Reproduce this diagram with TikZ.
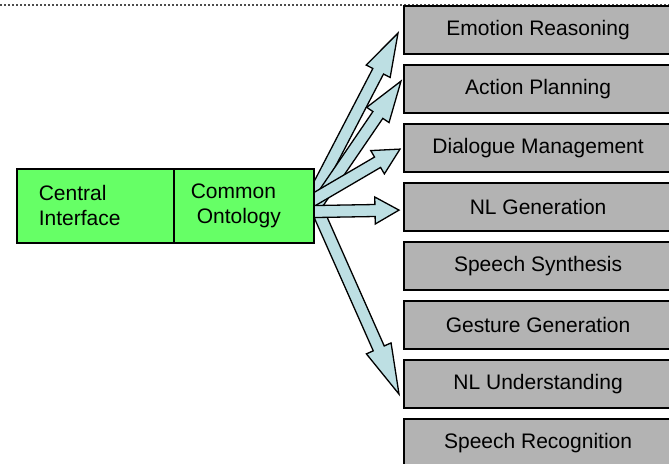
\documentclass[tikz,border=0pt]{standalone}
\usepackage{fontspec}
\setmainfont{Liberation Sans}
\usetikzlibrary{calc}
\definecolor{modgray}{RGB}{179,179,179}
\definecolor{ifgreen}{RGB}{102,255,102}
\definecolor{linkblue}{RGB}{189,223,227}
\pgfdeclarelayer{back}
\pgfsetlayers{back,main}
% block arrow from tail #1 to tip #2 with head length #3
\newcommand\blockarrow[3]{%
  \coordinate (#2-b) at ($(#2)!#3!(#1)$);
  \filldraw[linkarrow] ($(#1)!6pt!90:(#2)$) -- ($(#2-b)!6pt!90:(#2)$)
    -- ($(#2-b)!13.5pt!90:(#2)$) -- (#2) -- ($(#2-b)!13.5pt!-90:(#2)$)
    -- ($(#2-b)!6pt!-90:(#2)$) -- ($(#1)!6pt!-90:(#2)$) -- cycle;}
\begin{document}
\begin{tikzpicture}[x=1pt,y=-1pt,
  font=\fontsize{21}{25}\selectfont,
  module/.style={draw=black, line width=2.2pt, fill=modgray,
    minimum width=268pt, minimum height=48pt, inner sep=0pt, anchor=north west},
  core/.style={draw=black, line width=1.5pt, fill=ifgreen,
    minimum height=74pt, inner ysep=0pt, anchor=north west, align=left},
  linkarrow/.style={fill=linkblue, draw=black, line width=1.3pt, line join=miter}]
\useasboundingbox (0,0) rectangle (669,463);

% dotted rule along the top
\draw[gray!60!black, line width=2pt, dash pattern=on 2pt off 2pt] (0,5) -- (669,5);

% module column
\node[module] (m1) at (403,5)   {Emotion Reasoning};
\node[module] (m2) at (403,64)  {Action Planning};
\node[module] (m3) at (403,123) {Dialogue Management};
\node[module] (m4) at (403,182) {NL Generation};
\node[module] (m5) at (403,241) {Speech Synthesis};
\node[module] (m6) at (403,300) {Gesture Generation};
\node[module] (m7) at (403,359) {NL Understanding};
\node[module] (m8) at (403,418) {Speech Recognition};

% central block
\node[core, text width=113pt, inner xsep=22pt] (ci) at (16,168) {Central\\Interface};
\node[core, text width=106pt, inner xsep=17pt] (co) at (173,168) {Common\\\hspace*{6pt}Ontology};

% arrow ends
\coordinate (t1) at ($(co.east)+(-13,13)$);
\coordinate (t2) at ($(co.east)+(-13,21)$);
\coordinate (t3) at ($(co.east)+(-13,1)$);
\coordinate (t4) at ($(co.east)+(-13,6)$);
\coordinate (t5) at ($(co.east)+(-11,-27)$);
\coordinate (p1) at ($(m1.west)+(-5,3)$);
\coordinate (p2) at ($(m2.west)+(-2,-8)$);
\coordinate (p3) at ($(m3.west)+(-3,1)$);
\coordinate (p4) at ($(m4.west)+(-4,3)$);
\coordinate (p5) at ($(m7.west)+(-4,10)$);

\begin{pgfonlayer}{back}
\blockarrow{t5}{p5}{50pt}
\blockarrow{t1}{p1}{43pt}
\blockarrow{t2}{p2}{41pt}
\blockarrow{t3}{p3}{26pt}
\blockarrow{t4}{p4}{24pt}
\end{pgfonlayer}
\end{tikzpicture}
\end{document}
